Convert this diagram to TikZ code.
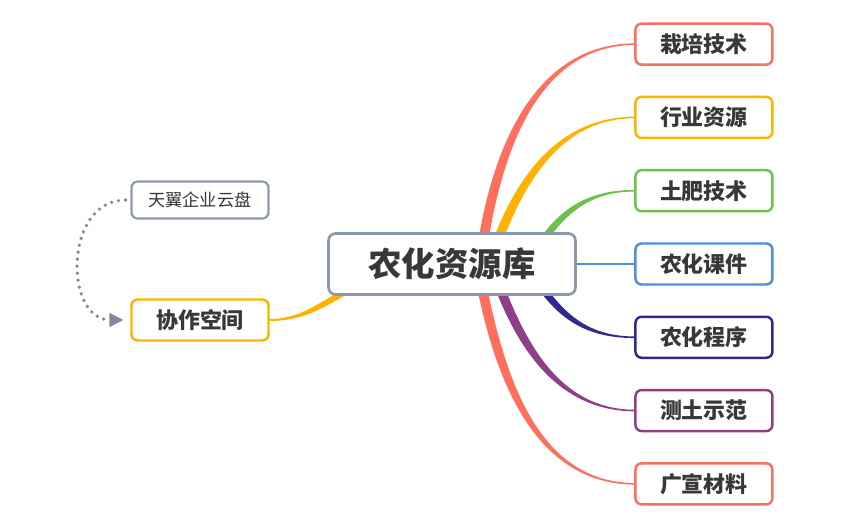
\documentclass[tikz,border=0pt]{standalone}
\usepackage{fontspec}
\newfontfamily\cjk{Noto Sans CJK SC}
\usetikzlibrary{arrows.meta,positioning,calc}

\definecolor{ink}{HTML}{383838}
\definecolor{redbr}{HTML}{FF6F5E}
\definecolor{orgbr}{HTML}{FFB300}
\definecolor{grnbr}{HTML}{6CC24A}
\definecolor{blubr}{HTML}{4A8FDB}
\definecolor{navbr}{HTML}{2F2B8E}
\definecolor{prpbr}{HTML}{8F3E8A}
\definecolor{grybr}{HTML}{8C99AC}

\pgfdeclarelayer{bg}
\pgfsetlayers{bg,main}

\begin{document}
\begin{tikzpicture}[
  x=0.02cm, y=0.02cm,
  hub/.style={draw=grybr, line width=1.5pt, rounded corners=4pt, fill=white, outer sep=0pt,
    minimum width=4.94cm, minimum height=1.22cm, text=ink, font=\cjk\bfseries\fontsize{19}{22}\selectfont},
  leaf/.style={draw, line width=1.4pt, rounded corners=3.5pt, fill=white, outer sep=0pt,
    minimum width=2.74cm, minimum height=0.82cm, text=ink, font=\cjk\bfseries\fontsize{12.5}{15}\selectfont},
  cloudbox/.style={draw=grybr, line width=1.2pt, rounded corners=3.5pt, fill=white, outer sep=0pt,
    minimum width=2.74cm, minimum height=0.74cm, text=ink, font=\cjk\fontsize{9.8}{12}\selectfont},
  link/.style={draw=grybr!90!black, line width=2.1pt, line cap=round, dash pattern=on 0pt off 4pt,
    -{Triangle[length=8pt,width=7.5pt]}, shorten <=0.12cm, shorten >=0.16cm}
]
\useasboundingbox (0,0) rectangle (850,530);

% centre and topics
\node[hub] (root) at (452,266) {农化资源库};
\node[leaf, draw=blubr, right=1.2cm of root] (kejian) {农化课件};
\node[leaf, draw=grnbr, above=0.646cm of kejian] (tufei) {土肥技术};
\node[leaf, draw=orgbr, above=0.646cm of tufei] (hangye) {行业资源};
\node[leaf, draw=redbr, above=0.646cm of hangye] (zaipei) {栽培技术};
\node[leaf, draw=navbr, below=0.646cm of kejian] (chengxu) {农化程序};
\node[leaf, draw=prpbr, below=0.646cm of chengxu] (cetu) {测土示范};
\node[leaf, draw=redbr, below=0.646cm of cetu] (guangxuan) {广宣材料};

% left side
\node[leaf, draw=orgbr] (xiezuo) at (200,210) {协作空间};
\node[cloudbox, above=1.62cm of xiezuo] (tianyi) {天翼企业云盘};

% tapered branches
\begin{pgfonlayer}{bg}
\fill[redbr] ($(root.north west)+(151,0)$) to[out=80,in=180] ($(zaipei.west)+(0,0.8)$)
  -- ($(zaipei.west)+(0,-0.8)$) to[out=180,in=80] ($(root.north west)+(161,0)$) -- cycle;
\fill[orgbr] ($(root.north west)+(167,0)$) to[out=68,in=180] ($(hangye.west)+(0,0.8)$)
  -- ($(hangye.west)+(0,-0.8)$) to[out=180,in=68] ($(root.north west)+(177,0)$) -- cycle;
\fill[grnbr] ($(root.north west)+(215,0)$) to[out=52,in=180] ($(tufei.west)+(0,0.8)$)
  -- ($(tufei.west)+(0,-0.8)$) to[out=180,in=52] ($(root.north west)+(224,0)$) -- cycle;
\draw[blubr, line width=1.2pt] (root.east) -- (kejian.west);
\fill[navbr] ($(root.south west)+(214,0)$) to[out=-52,in=180] ($(chengxu.west)+(0,-0.8)$)
  -- ($(chengxu.west)+(0,0.8)$) to[out=180,in=-52] ($(root.south west)+(223,0)$) -- cycle;
\fill[prpbr] ($(root.south west)+(169,0)$) to[out=-68,in=180] ($(cetu.west)+(0,-0.8)$)
  -- ($(cetu.west)+(0,0.8)$) to[out=180,in=-68] ($(root.south west)+(179,0)$) -- cycle;
\fill[redbr] ($(root.south west)+(150,0)$) to[out=-78,in=180] ($(guangxuan.west)+(0,-0.8)$)
  -- ($(guangxuan.west)+(0,0.8)$) to[out=180,in=-78] ($(root.south west)+(160,0)$) -- cycle;
\fill[orgbr] ($(root.south west)+(6,0)$) to[out=210,in=0] ($(xiezuo.east)+(0,1)$)
  -- ($(xiezuo.east)+(0,-1)$) to[out=0,in=210] ($(root.south west)+(18,0)$) -- cycle;
\end{pgfonlayer}

\draw[link] (tianyi.west) to[out=180,in=180,looseness=1.45] (xiezuo.west);
\end{tikzpicture}
\end{document}
